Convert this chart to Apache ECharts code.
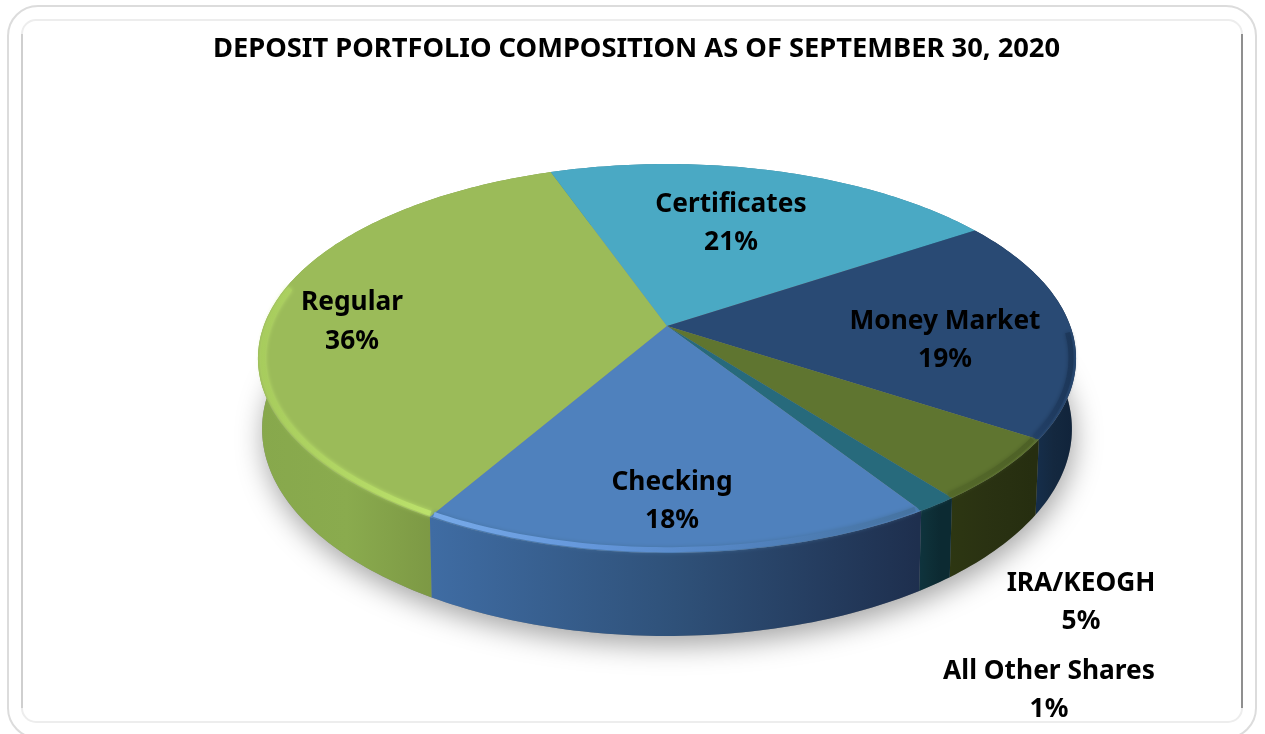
<!DOCTYPE html>
<html><head><meta charset="utf-8">
<style>html,body{margin:0;padding:0;background:#fff}#c{width:1265px;height:734px}</style>
<script src="https://cdn.jsdelivr.net/npm/echarts@6/dist/echarts.min.js"></script>
</head><body><div id="c"></div>
<script>
const chartTitle = 'DEPOSIT PORTFOLIO COMPOSITION AS OF SEPTEMBER 30, 2020';
const categories = ['Regular', 'Certificates', 'Money Market', 'IRA/KEOGH', 'All Other Shares', 'Checking'];
const shares = [36.2, 21.1, 18.5, 5.3, 1.4, 17.5];

const startAngle = 210.2;
const topFace = { cx: 667, cy: 326, a: 189, b: 403.3, k: 0.1671 };
const baseFace = { cx: 667, cy: 393.8, a: 201, b: 399, k: 0.17 };
const faceColors = ['#9bbb59', '#4aa9c4', '#294a74', '#5f7530', '#276a7c', '#4f81bd'];
const sideStops = [
  ['#87a84c', '#8aab4e', '#7c9844'], ['#3a8499', '#3a8499', '#3a8499'], ['#16304f', '#14283f', '#10233a'],
  ['#2e3812', '#2a3212', '#262e10'], ['#0e3540', '#0e3038', '#0c2a32'], ['#3f6ca3', '#2f5179', '#1e2f4e']
];
const sideRanges = [[258, 435], [550, 975], [1030, 1077], [938, 1032], [915, 940], [432, 918]];
const rimStops = [
  ['#a6cb5c', '#bde36c'], ['#4aa9c4', '#4aa9c4'], ['#23416a', '#1b3556'],
  ['#566b2b', '#4d6026'], ['#276a7c', '#276a7c'], ['#7cafef', '#679ae0', '#5283c0', '#45729f']
];
const rimLimits = [92, 282];
const labelCentres = [[352, 322], [731, 223.5], [945, 340.5], [1081, 602.5], [1049, 690.5], [672, 501.5]];

function project(face, deg, r) {
  const t = deg * Math.PI / 180, u = r * Math.sin(t), v = -r * Math.cos(t), w = 1 - face.k * v;
  return [face.cx + face.b * u / w, face.cy + face.a * v / w];
}
function arc(face, from, to, r) {
  const n = Math.max(2, Math.ceil(Math.abs(to - from))), pts = [];
  for (let i = 0; i <= n; i++) pts.push(project(face, from + (to - from) * i / n, r));
  return pts;
}
function gradient(x0, x1, stops) {
  return { type: 'linear', global: true, x: x0, y: 0, x2: x1, y2: 0,
    colorStops: stops.map((c, i) => ({ offset: i / (stops.length - 1), color: c })) };
}
const total = shares.reduce((s, v) => s + v, 0);

function renderSlice(params, api) {
  const i = params.dataIndex;
  const value = api.value(0);
  let from = startAngle;
  for (let j = 0; j < i; j++) from += shares[j] / total * 360;
  from %= 360;
  const to = from + value / total * 360;
  const children = [];
  if (i === 0) {
    children.push({ type: 'polygon', z2: 0, shape: { points: arc(baseFace, 0, 360, 1) },
      style: { fill: '#888', shadowBlur: 28, shadowOffsetY: 9, shadowOffsetX: 2, shadowColor: 'rgba(0,0,0,0.36)' } });
  }
  const [x0, x1] = sideRanges[i];
  children.push({ type: 'polygon', z2: 1,
    shape: { points: arc(topFace, from, to, 1).concat(arc(baseFace, to, from, 1)) },
    style: { fill: gradient(x0, x1, sideStops[i]) } });
  children.push({ type: 'polygon', z2: 2,
    shape: { points: [[topFace.cx, topFace.cy]].concat(arc(topFace, from, to, 1)) },
    style: { fill: faceColors[i] } });
  const rimFrom = Math.max(from + 0.4, rimLimits[0]), rimTo = Math.min(to - 0.1, rimLimits[1]);
  if (rimTo > rimFrom) {
    children.push({ type: 'polyline', z2: 3,
      shape: { points: arc(topFace, rimFrom, rimTo, 0.988) },
      style: { fill: 'none', stroke: gradient(x0, x1, rimStops[i]), lineWidth: 5, opacity: 0.9,
        shadowBlur: 4, shadowColor: rimStops[i][rimStops[i].length - 1] } });
  }
  const [lx, ly] = labelCentres[i];
  children.push({ type: 'text', z2: 5, x: lx, y: ly,
    style: { text: api.value(1) + '\n' + Math.round(value) + '%', fill: '#000', align: 'center', verticalAlign: 'middle',
      font: '700 26.3px "Noto Sans"', lineHeight: 38.5 } });
  return { type: 'group', children };
}

const chart = echarts.init(document.getElementById('c'), null, { renderer: 'canvas' });
chart.setOption({
  animation: false,
  backgroundColor: '#fff',
  title: { text: chartTitle, left: 631.5, top: 31, textAlign: 'center',
    textStyle: { fontFamily: 'Noto Sans', fontWeight: 700, fontSize: 27.3, color: '#000' } },
  graphic: [
    { type: 'rect', z: -5, shape: { x: 8, y: 6, width: 1248, height: 732, r: 30 }, style: { fill: '#fff', stroke: '#dcdcdc', lineWidth: 2 } },
    { type: 'rect', z: -4, shape: { x: 22, y: 20, width: 1220, height: 702, r: 14 }, style: { fill: '#fff', stroke: '#ededed', lineWidth: 2 } },
    { type: 'line', z: -3, shape: { x1: 22, y1: 34, x2: 22, y2: 708 }, style: { stroke: '#cfcfcf', lineWidth: 2 } },
    { type: 'line', z: -3, shape: { x1: 1242, y1: 34, x2: 1242, y2: 708 }, style: { stroke: '#8f8f8f', lineWidth: 2 } }
  ],
  series: [{
    type: 'custom',
    coordinateSystem: 'none',
    renderItem: renderSlice,
    dimensions: ['share', 'category'],
    encode: { value: 0 },
    data: shares.map((v, i) => [v, categories[i]])
  }]
});
</script></body></html>
